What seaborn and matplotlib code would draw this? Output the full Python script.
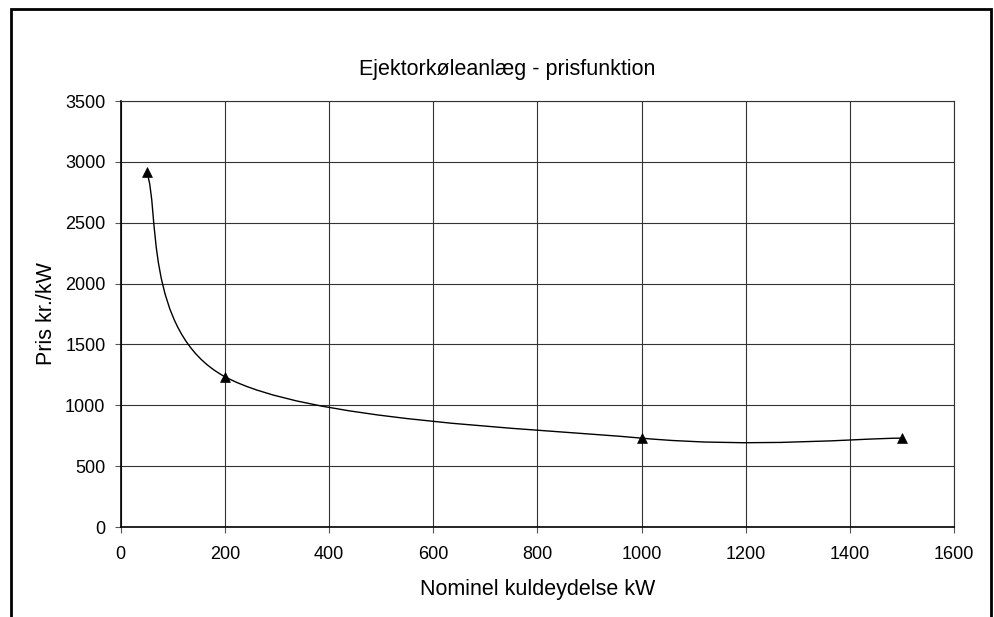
import numpy as np
import pandas as pd
import matplotlib
matplotlib.use("Agg")
import matplotlib.pyplot as plt
import seaborn as sns
from matplotlib.path import Path
from matplotlib.patches import PathPatch, Rectangle

# ---- data ----
capacity_kw = [50, 200, 1000, 1500]
price_kr_per_kw = [2915, 1235, 730, 730]
x_ticks = [0, 200, 400, 600, 800, 1000, 1200, 1400, 1600]
y_ticks = [0, 500, 1000, 1500, 2000, 2500, 3000, 3500]
title_text = "Ejektorkøleanlæg - prisfunktion"
x_label = "Nominel kuldeydelse kW"
y_label = "Pris kr./kW"

sns.set_theme(style="white")
plt.rcParams["font.family"] = ["Liberation Sans", "DejaVu Sans"]

df = pd.DataFrame({"kW": capacity_kw, "pris": price_kr_per_kw})

W, H = 994, 617
fig = plt.figure(figsize=(W / 100, H / 100), dpi=100)
fig.patch.set_facecolor("white")
left, right, top, bottom = 120.7, 954, 101, 527
ax = fig.add_axes([left / W, 1 - bottom / H, (right - left) / W, (bottom - top) / H])
ax.set_facecolor("white")

# Smoothed line (Excel-like Catmull-Rom Bezier through the data points)
P = df[["kW", "pris"]].to_numpy(dtype=float)
Pext = np.vstack([P[0], P, P[-1]])
verts = [tuple(P[0])]
codes = [Path.MOVETO]
for i in range(1, len(Pext) - 2):
    p0, p1, p2, p3 = Pext[i - 1], Pext[i], Pext[i + 1], Pext[i + 2]
    c1 = p1 + (p2 - p0) / 6.0
    c2 = p2 - (p3 - p1) / 6.0
    verts += [tuple(c1), tuple(c2), tuple(p2)]
    codes += [Path.CURVE4] * 3
ax.add_patch(PathPatch(Path(verts, codes), facecolor="none", edgecolor="black",
                       lw=1.0, zorder=3))

sns.scatterplot(data=df, x="kW", y="pris", marker="^", color="black", s=50,
                edgecolor="black", linewidth=0.5, ax=ax, zorder=4, clip_on=False)

ax.set_xlim(0, 1600)
ax.set_ylim(0, 3500)
ax.set_xticks(x_ticks)
ax.set_yticks(y_ticks)
ax.set_xticklabels([str(t) for t in x_ticks])
ax.set_yticklabels([str(t) for t in y_ticks])

ax.set_axisbelow(True)
ax.grid(True, color="#333333", lw=0.8)
for side in ["top", "right"]:
    ax.spines[side].set_visible(True)
    ax.spines[side].set_color("#333333")
    ax.spines[side].set_linewidth(0.8)
for side in ["left", "bottom"]:
    ax.spines[side].set_color("black")
    ax.spines[side].set_linewidth(1.2)

ax.tick_params(axis="both", which="major", direction="out", length=4, width=0.8,
               color="#555555", labelsize=13, labelcolor="black",
               bottom=True, left=True)
ax.tick_params(axis="y", pad=7)
ax.tick_params(axis="x", pad=10)

ax.set_xlabel(x_label, fontsize=15.5, color="black", labelpad=11)
ax.set_ylabel(y_label, fontsize=15.5, color="black", labelpad=6)
fig.text((left + right) / 2 / W - 0.03, 1 - 70 / H, title_text, fontsize=15.5,
         ha="center", va="center", color="black")

# outer chart frame
fig.add_artist(Rectangle((11 / W, -0.1), (991 - 11) / W, (1 - 9 / H) + 0.1,
                         transform=fig.transFigure, fill=False, lw=2.0,
                         edgecolor="black", clip_on=False))

fig.savefig("out.png", dpi=100, facecolor="white")
